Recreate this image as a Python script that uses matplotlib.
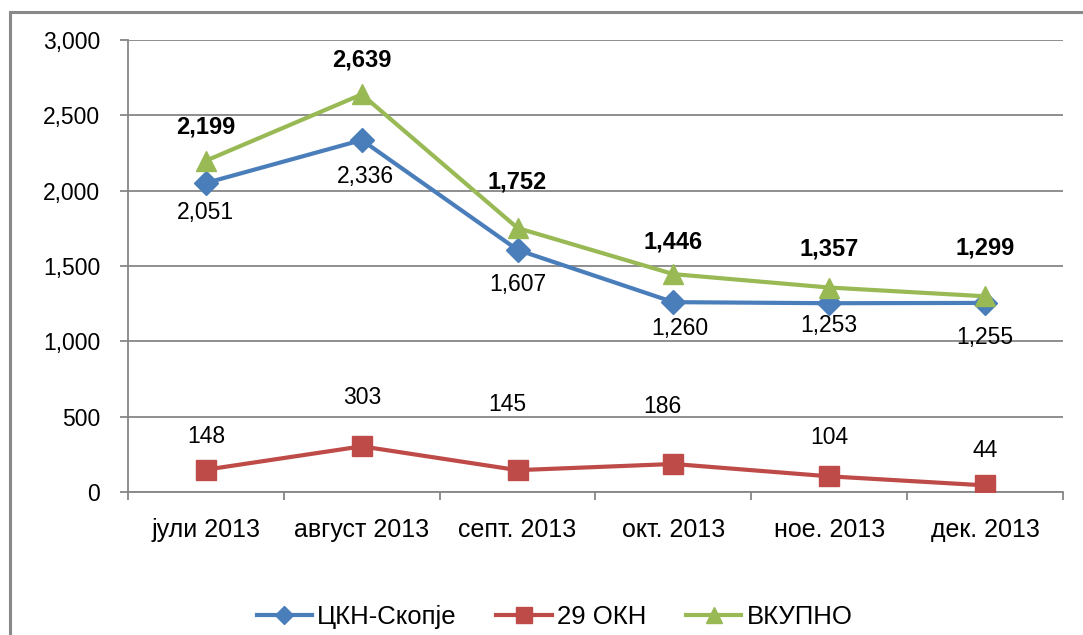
import matplotlib
matplotlib.use('Agg')
import matplotlib.pyplot as plt
from matplotlib.patches import Rectangle
from matplotlib.ticker import FuncFormatter

# --- data ---
months = ['јули 2013', 'август 2013', 'септ. 2013', 'окт. 2013', 'ное. 2013', 'дек. 2013']
ckn_skopje = [2051, 2336, 1607, 1260, 1253, 1255]
okn_29 = [148, 303, 145, 186, 104, 44]
vkupno = [2199, 2639, 1752, 1446, 1357, 1299]

# label offsets in pixels (dx, dy)
ckn_off = [(0, -30), (4, -36), (0, -35), (6, -26), (0, -22), (0, -35)]
okn_off = [(0, 33), (0, 49), (-10, 66), (-11, 57), (0, 39), (0, 35)]
vk_off = [(0, 34), (0, 34), (0, 46), (0, 32), (0, 39), (0, 48)]

plt.rcParams['font.family'] = ['Liberation Sans', 'DejaVu Sans']

fig = plt.figure(figsize=(10.83, 6.35), dpi=100)
ax = fig.add_axes([128 / 1083, 1 - 492 / 635, (1063 - 128) / 1083, (492 - 40) / 635])

blue = '#4A7EBB'
red = '#BE4B48'
green = '#98B954'

x = list(range(len(months)))
ax.plot(x, ckn_skopje, '-D', color=blue, lw=3, ms=12, label='ЦКН-Скопје', zorder=3)
ax.plot(x, okn_29, '-s', color=red, lw=3, ms=14, label='29 ОКН', zorder=3)
ax.plot(x, vkupno, '-^', color=green, lw=3, ms=15, label='ВКУПНО', zorder=4)

fmt = lambda v: f'{v:,}'
for xi, v, (dx, dy) in zip(x, ckn_skopje, ckn_off):
    ax.annotate(fmt(v), (xi, v), xytext=(dx, dy), textcoords='offset pixels',
                ha='center', va='center', fontsize=16.5)
for xi, v, (dx, dy) in zip(x, okn_29, okn_off):
    ax.annotate(fmt(v), (xi, v), xytext=(dx, dy), textcoords='offset pixels',
                ha='center', va='center', fontsize=16.5)
for xi, v, (dx, dy) in zip(x, vkupno, vk_off):
    ax.annotate(fmt(v), (xi, v), xytext=(dx, dy), textcoords='offset pixels',
                ha='center', va='center', fontsize=17, fontweight='bold')

ax.set_xlim(-0.5, len(months) - 0.5)
ax.set_ylim(0, 3000)
ax.set_yticks(range(0, 3001, 500))
ax.yaxis.set_major_formatter(FuncFormatter(lambda v, p: f'{int(v):,}'))
ax.yaxis.grid(True, color='#868686', lw=1.3)
ax.set_axisbelow(True)

# category boundaries as major ticks, labels on minor ticks at centres
ax.set_xticks([i - 0.5 for i in range(len(months) + 1)])
ax.set_xticklabels([])
ax.set_xticks(x, minor=True)
ax.set_xticklabels(months, minor=True, fontsize=18)
ax.tick_params(axis='x', which='major', length=6, width=1.3, color='#868686', direction='out')
ax.tick_params(axis='x', which='minor', length=0, pad=19)
ax.tick_params(axis='y', length=6, width=1.3, color='#868686', pad=14, labelsize=16.5)

for s in ['top', 'right']:
    ax.spines[s].set_visible(False)
for s in ['left', 'bottom']:
    ax.spines[s].set_color('#868686')
    ax.spines[s].set_linewidth(1.3)

fig.legend(loc='center', bbox_to_anchor=(0.512, 0.028), ncol=3, frameon=False,
           fontsize=18.5, handlelength=2.15, handletextpad=0.2, columnspacing=1.55,
           markerscale=0.8)

# outer chart frame (only top and left visible)
fig.add_artist(Rectangle((10 / 1083, -0.5), 2, 0.5 + 1 - 12 / 635,
                         transform=fig.transFigure, fill=False,
                         edgecolor='#898989', lw=2.2))

fig.savefig('out.png', dpi=100)
